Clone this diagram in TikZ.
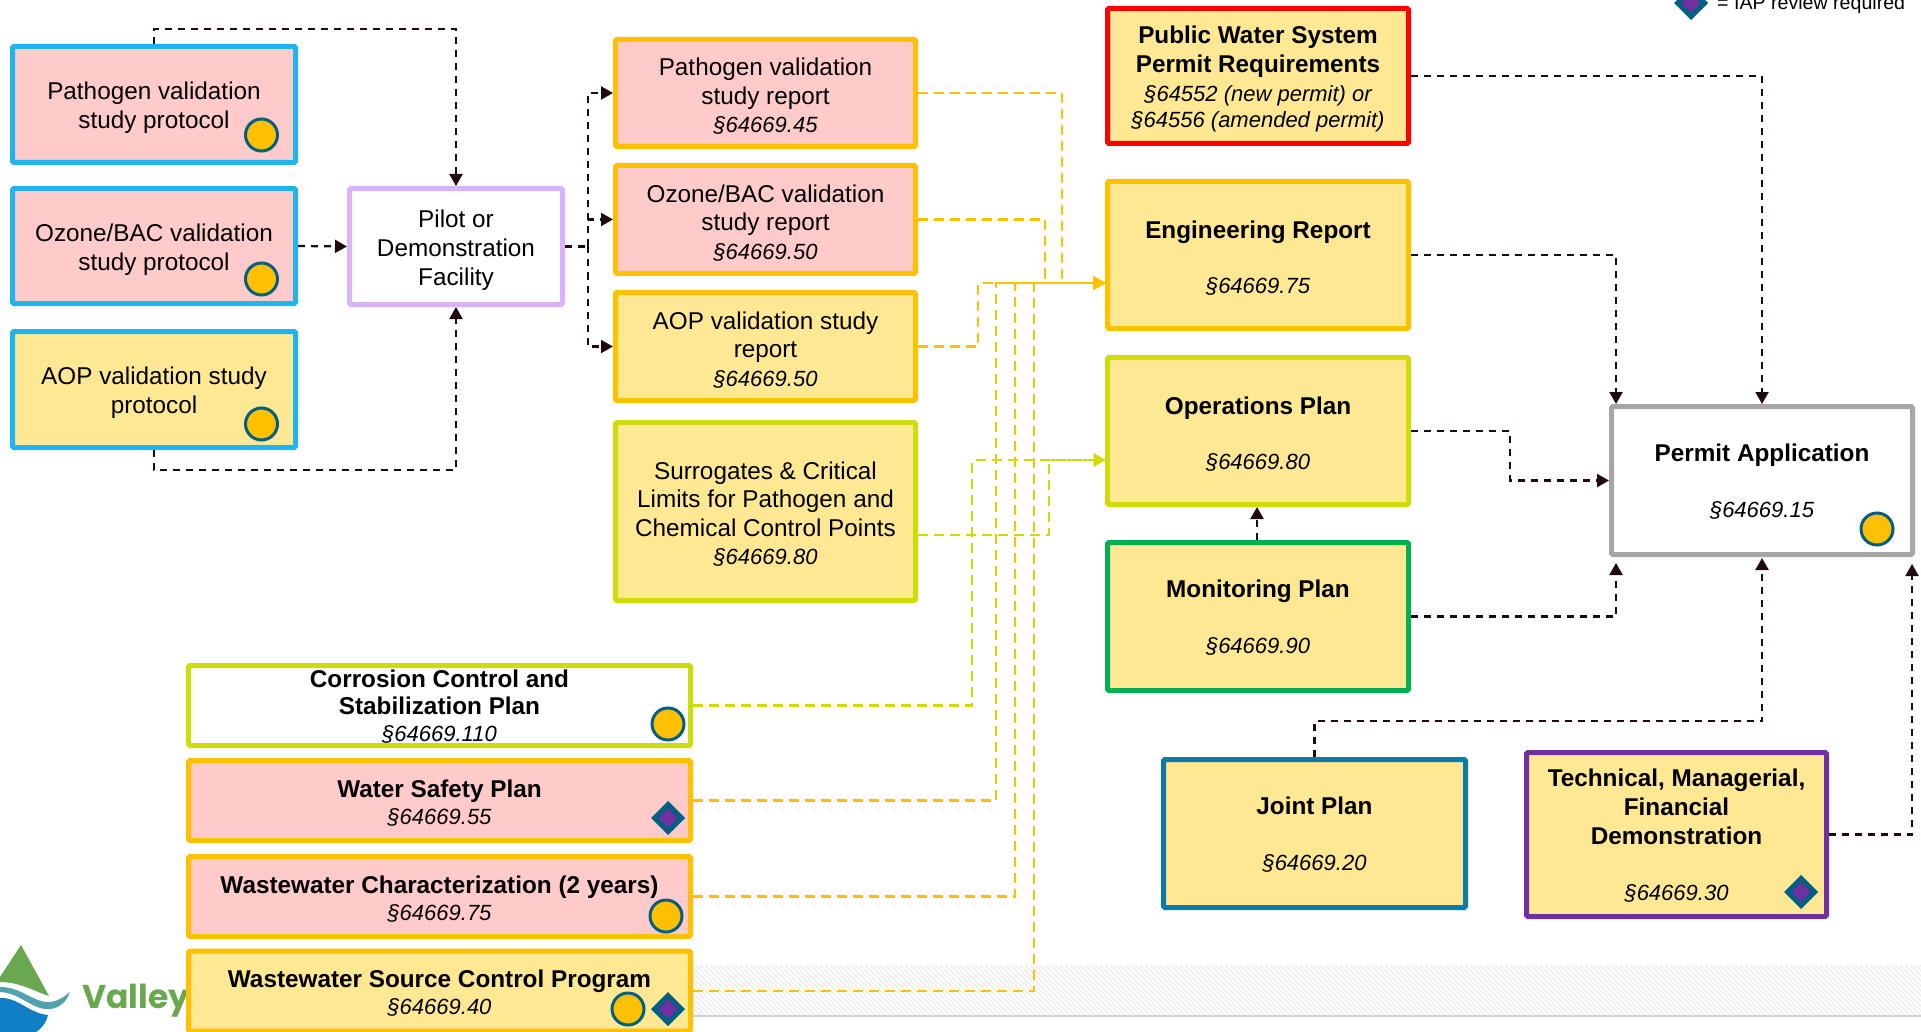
\documentclass[tikz,border=0pt]{standalone}
\usepackage{fontspec}
\setmainfont{Liberation Sans}
\newfontfamily\logofont{Poppins}
\usetikzlibrary{arrows.meta,shapes.geometric}
\definecolor{pinkf}{HTML}{FFCACA}
\definecolor{yellowf}{HTML}{FEE894}
\definecolor{skybd}{HTML}{1FB4EE}
\definecolor{amberbd}{HTML}{FFC000}
\definecolor{limebd}{HTML}{CEDC0A}
\definecolor{greenbd}{HTML}{00B050}
\definecolor{purplebd}{HTML}{7030A0}
\definecolor{lilacbd}{HTML}{DAB3FF}
\definecolor{greybd}{HTML}{A6A6A6}
\definecolor{redbd}{HTML}{FF0000}
\definecolor{tealbd}{HTML}{087CA7}
\definecolor{markbd}{HTML}{005F83}
\definecolor{darkline}{HTML}{1F0A10}
\definecolor{logogreen}{HTML}{69A84F}
\definecolor{logoteal}{HTML}{4FA3AC}
\definecolor{logoblue}{HTML}{0E7FC4}
\newcommand{\secn}[1]{{\fontsize{22}{29}\selectfont\itshape #1}}
\newcommand{\nudge}[1]{\rule{0pt}{#1pt}}
\tikzset{
  box/.style 2 args={draw=#1,fill=#2,line width=5pt,rounded corners=1.5pt,inner sep=0pt,align=center,
    font=\fontsize{24.3}{29}\selectfont},
  sz/.style 2 args={minimum width=#1,minimum height=#2},
  tight/.style={font=\fontsize{24.3}{27}\selectfont},
  snug/.style={font=\fontsize{24.3}{28.5}\selectfont},
  circmark/.style={circle,draw=markbd,fill=amberbd,line width=3pt,minimum size=32pt,inner sep=0pt},
  diamark/.style={diamond,aspect=1,draw=markbd,fill=purplebd,line width=5pt,minimum size=29pt,inner sep=0pt},
  darkflow/.style={draw=darkline,line width=2.2pt,dash pattern=on 7pt off 6pt,-{Triangle[length=12pt,width=13pt]}},
  darkplain/.style={draw=darkline,line width=2.2pt,dash pattern=on 7pt off 6pt},
  amberflow/.style={draw=amberbd,line width=2.4pt,dash pattern=on 10pt off 6pt,-{Triangle[length=12pt,width=13pt]}},
  limeflow/.style={draw=limebd,line width=2.4pt,dash pattern=on 10pt off 6pt,-{Triangle[length=12pt,width=13pt]}},
}
\begin{document}
\begin{tikzpicture}[x=1pt,y=-1pt]
\useasboundingbox (0,0) rectangle (1921,1032);
% hatched footer band
\begin{scope}
  \clip (693,965) rectangle (1921,1016);
  \foreach \i in {640,645,...,1921} {
    \draw[line width=1.6pt,draw=black!7] (\i,965) -- ++(51,51);
  }
\end{scope}
\draw[line width=1.2pt,draw=black!18] (693,1016) -- (1921,1016);
% logo
\fill[logogreen] (21,945) -- (49,996)
   .. controls (36,992) and (20,982) .. (0,982) -- (0,977) -- cycle;
\fill[logoteal] (0,987) .. controls (22,987) and (32,1002) .. (48,1002)
   .. controls (58,1002) and (65,996) .. (70,992)
   .. controls (66,1004) and (56,1010) .. (46,1009)
   .. controls (30,1008) and (20,993) .. (0,992) -- cycle;
\fill[logoblue] (0,998) .. controls (18,997) and (28,1013) .. (48,1015)
   .. controls (46,1024) and (40,1030) .. (33,1034) -- (0,1034) -- cycle;
\node[anchor=base west,inner sep=0pt,text=logogreen,font=\fontsize{33}{35}\selectfont\logofont\bfseries] (logotext) at (82,1008) {Valley};
% legend
\node[diamark] (legendmark) at (1691,3) {};
\node[anchor=base west,inner sep=0pt,font=\fontsize{19.6}{24}\selectfont] (legendtext) at (1717,10) {= IAP review required};
% protocols
\node[box={skybd}{pinkf},sz={283}{116}] (A1) at (154,104.5) {\nudge{25}Pathogen validation\\study protocol};
\node[box={skybd}{pinkf},sz={283}{115}] (A2) at (154,246) {\nudge{25}Ozone/BAC validation\\study protocol};
\node[box={skybd}{yellowf},sz={283}{116}] (A3) at (154,389.5) {\nudge{25}AOP validation study\\protocol};
\node[box={lilacbd}{white},sz={213}{116}] (P) at (456,246.5) {\nudge{26}Pilot or\\Demonstration\\Facility};
% reports
\node[box={amberbd}{pinkf},snug,sz={300}{107}] (B1) at (765.5,93) {\nudge{24}Pathogen validation\\study report\\\secn{§64669.45}};
\node[box={amberbd}{pinkf},snug,sz={300}{108}] (B2) at (765.5,219.5) {\nudge{24}Ozone/BAC validation\\study report\\\secn{§64669.50}};
\node[box={amberbd}{yellowf},snug,sz={300}{108}] (B3) at (765.5,346.5) {\nudge{24}AOP validation study\\report\\\secn{§64669.50}};
\node[box={limebd}{yellowf},snug,sz={300}{178}] (B4) at (765.5,511.5) {\nudge{23}Surrogates \& Critical\\Limits for Pathogen and\\Chemical Control Points\\\secn{§64669.80}};
% plans
\node[box={redbd}{yellowf},sz={301}{135}] (C) at (1258,76) {\nudge{24}\textbf{Public Water System}\\\textbf{Permit Requirements}\\\secn{§64552 (new permit) or}\\[-3.5pt]\secn{§64556 (amended permit)}};
\node[box={amberbd}{yellowf},sz={301}{147}] (D) at (1258,255) {\nudge{23}\textbf{Engineering Report}\\[26pt]\secn{§64669.75}};
\node[box={limebd}{yellowf},sz={301}{147}] (E) at (1258,431) {\nudge{23}\textbf{Operations Plan}\\[26pt]\secn{§64669.80}};
\node[box={greenbd}{yellowf},sz={301}{148}] (F) at (1258,616.5) {\nudge{20}\textbf{Monitoring Plan}\\[27pt]\secn{§64669.90}};
\node[box={greybd}{white},sz={301}{148}] (R) at (1762,480.5) {\nudge{20}\textbf{Permit Application}\\[27pt]\secn{§64669.15}};
\node[box={tealbd}{yellowf},sz={302}{148}] (J) at (1314.5,833.5) {\nudge{20}\textbf{Joint Plan}\\[27pt]\secn{§64669.20}};
\node[box={purplebd}{yellowf},sz={300}{164}] (T) at (1676.5,834.5) {\nudge{20}\textbf{Technical, Managerial,}\\\textbf{Financial}\\\textbf{Demonstration}\\[27pt]\secn{§64669.30}};
% lower left
\node[box={limebd}{white},tight,sz={502}{80}] (G) at (439.5,705.5) {\nudge{20}\textbf{Corrosion Control and}\\\textbf{Stabilization Plan}\\\secn{§64669.110}};
\node[box={amberbd}{pinkf},tight,sz={502}{80}] (H) at (439.5,800.5) {\nudge{23}\textbf{Water Safety Plan}\\\secn{§64669.55}};
\node[box={amberbd}{pinkf},tight,sz={502}{80}] (I) at (439.5,896.5) {\nudge{22}\textbf{Wastewater Characterization (2 years)}\\\secn{§64669.75}};
\node[box={amberbd}{yellowf},tight,sz={502}{80}] (K) at (439.5,991) {\nudge{21}\textbf{Wastewater Source Control Program}\\\secn{§64669.40}};
% markers
\node[circmark] (mA1) at (261.5,135) {};
\node[circmark] (mA2) at (261.5,279) {};
\node[circmark] (mA3) at (261.5,424) {};
\node[circmark] (mR) at (1877,529) {};
\node[circmark] (mG) at (668,724) {};
\node[diamark] (mH) at (668,818) {};
\node[circmark] (mI) at (666,916) {};
\node[circmark] (mK) at (628,1009) {};
\node[diamark] (mK2) at (668,1009) {};
\node[diamark] (mT) at (1801,892) {};
% routing points
\coordinate (a1up) at (154,29);
\coordinate (a3dn) at (154,470);
\coordinate (pbus) at (588,246.5);
\coordinate (dIn) at (1105.5,283);
\coordinate (eIn) at (1105.5,460);
\coordinate (c1) at (1062,283);
\coordinate (c2) at (1045,283);
\coordinate (c3) at (978,283);
\coordinate (c4) at (996,283);
\coordinate (c5) at (1015,283);
\coordinate (c6) at (1034,283);
\coordinate (g1) at (1049,460);
\coordinate (g2) at (972,460);
\coordinate (b4y) at (1000,535);
\coordinate (fe) at (1257,500);
\coordinate (ropL) at (1616,404);
\coordinate (rbotL) at (1616,563);
\coordinate (rbotR) at (1912,564);
\coordinate (rleft) at (1609,480.5);
\coordinate (ejog) at (1510,431);
\coordinate (rbotC) at (1762,558);
\coordinate (jup) at (1314.5,721);
% dark connectors
\draw[darkflow] (A2.east) -- (P.west);
\draw[darkflow] (A1.north) -- (a1up) -| (P.north);
\draw[darkflow] (A3.south) -- (a3dn) -| (P.south);
\draw[darkplain] (P.east) -- (pbus);
\draw[darkflow] (pbus) |- (B1.west);
\draw[darkflow] (pbus) |- (B2.west);
\draw[darkflow] (pbus) |- (B3.west);
\draw[darkflow] (C.east) -| (R.north);
\draw[darkflow] (D.east) -| (ropL);
\draw[darkflow] (E.east) -- (ejog) -- (ejog |- rleft) -- (rleft);
\draw[darkflow] (F.east) -| (rbotL);
\draw[darkflow] (fe |- F.north) -- (fe |- E.south);
\draw[darkflow] (J.north) -- (jup) -| (rbotC);
\draw[darkflow] (T.east) -| (rbotR);
% amber connectors
\draw[amberflow] (B1.east) -| (c1) -- (dIn);
\draw[amberflow] (B2.east) -| (c2) -- (dIn);
\draw[amberflow] (B3.east) -| (c3) -- (dIn);
\draw[amberflow] (H.east) -| (c4) -- (dIn);
\draw[amberflow] (I.east) -| (c5) -- (dIn);
\draw[amberflow] (K.east) -| (c6) -- (dIn);
% lime connectors
\draw[limeflow] (B4.east |- b4y) -| (g1) -- (eIn);
\draw[limeflow] (G.east) -| (g2) -- (eIn);
\end{tikzpicture}
\end{document}
